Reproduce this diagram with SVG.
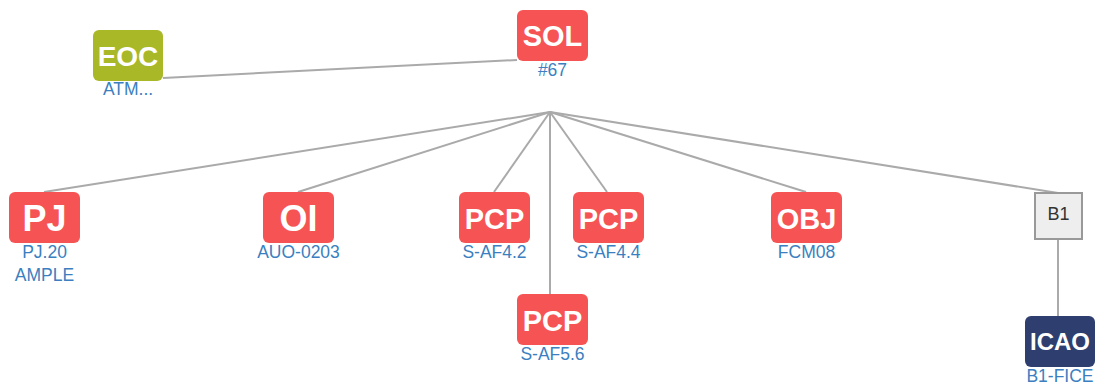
<svg xmlns="http://www.w3.org/2000/svg" width="1095" height="383" viewBox="0 0 1095 383">
<style>
.box{stroke:none}
.red{fill:#f65454}
.green{fill:#a9b826}
.navy{fill:#2e3f6f}
.t{font-family:"Liberation Sans",Arial,sans-serif;font-weight:bold;fill:#fff;text-anchor:middle}
.lb{font-family:"Liberation Sans",Arial,sans-serif;font-size:17.5px;fill:#3b7fc0;text-anchor:middle}
.ln{stroke:#aaaaaa;stroke-width:2;fill:none}
</style>
<rect width="1095" height="383" fill="#fff"/>
<g id="connectors">
<line class="ln" x1="163" y1="78" x2="517" y2="60"/>
<line class="ln" x1="550" y1="112" x2="44" y2="192"/>
<line class="ln" x1="550" y1="112" x2="298" y2="192"/>
<line class="ln" x1="550" y1="112" x2="494" y2="192"/>
<line class="ln" x1="550" y1="112" x2="550" y2="294"/>
<line class="ln" x1="550" y1="112" x2="607" y2="192"/>
<line class="ln" x1="550" y1="112" x2="806" y2="192"/>
<line class="ln" x1="550" y1="112" x2="1058" y2="193"/>
<line class="ln" x1="1058" y1="239" x2="1058" y2="316"/>
</g>
<g id="sol">
<rect class="box red" x="517" y="10" width="71" height="51" rx="6"/>
<text class="t" x="552.5" y="46" font-size="29">SOL</text>
<text class="lb" x="552.5" y="76">#67</text>
</g>
<g id="eoc">
<rect class="box green" x="93" y="30" width="70" height="51" rx="6"/>
<text class="t" x="128" y="66" font-size="28">EOC</text>
<text class="lb" x="128" y="95">ATM...</text>
</g>
<g id="pj">
<rect class="box red" x="9" y="192" width="71" height="51" rx="6"/>
<text class="t" x="44.5" y="230.5" font-size="36">PJ</text>
<text class="lb" x="44.5" y="258">PJ.20</text>
<text class="lb" x="44.5" y="281">AMPLE</text>
</g>
<g id="oi">
<rect class="box red" x="263" y="192" width="71" height="51" rx="6"/>
<text class="t" x="298.5" y="230.5" font-size="36">OI</text>
<text class="lb" x="298.5" y="258">AUO-0203</text>
</g>
<g id="pcp42">
<rect class="box red" x="459" y="192" width="71" height="51" rx="6"/>
<text class="t" x="494.5" y="228.5" font-size="29">PCP</text>
<text class="lb" x="494.5" y="258">S-AF4.2</text>
</g>
<g id="pcp44">
<rect class="box red" x="573" y="192" width="71" height="51" rx="6"/>
<text class="t" x="608.5" y="228.5" font-size="29">PCP</text>
<text class="lb" x="608.5" y="258">S-AF4.4</text>
</g>
<g id="obj">
<rect class="box red" x="771" y="192" width="71" height="51" rx="6"/>
<text class="t" x="806.5" y="228.5" font-size="29">OBJ</text>
<text class="lb" x="806.5" y="258">FCM08</text>
</g>
<g id="pcp56">
<rect class="box red" x="517" y="294" width="71" height="51" rx="6"/>
<text class="t" x="552.5" y="330.5" font-size="29">PCP</text>
<text class="lb" x="552.5" y="360">S-AF5.6</text>
</g>
<g id="b1">
<rect x="1035" y="193" width="47" height="46" fill="#eeeeee" stroke="#999999" stroke-width="2"/>
<text x="1058.5" y="220" font-family="'Liberation Sans',Arial,sans-serif" font-size="18" fill="#333" text-anchor="middle">B1</text>
</g>
<g id="icao">
<rect class="box navy" x="1025" y="316" width="70" height="51" rx="6"/>
<text class="t" x="1060" y="350" font-size="24">ICAO</text>
<text class="lb" x="1060" y="382">B1-FICE</text>
</g>
</svg>
